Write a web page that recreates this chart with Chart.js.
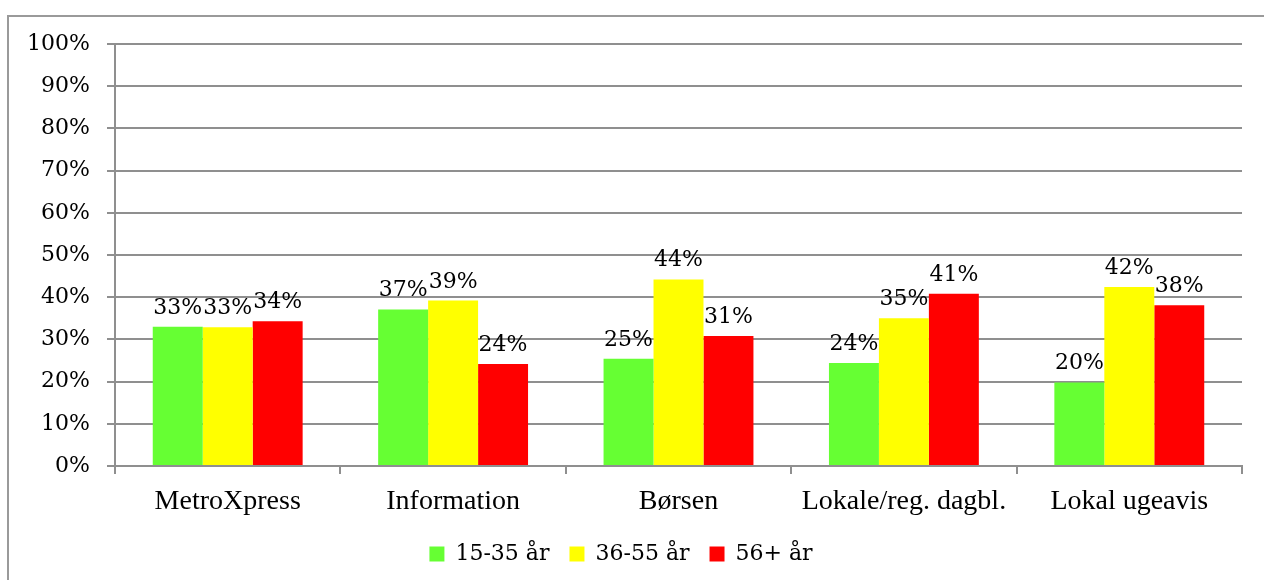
<!DOCTYPE html>
<html>
<head>
<meta charset="utf-8">
<script src="https://cdn.jsdelivr.net/npm/chart.js@4/dist/chart.umd.min.js"></script>
<style>
html,body{margin:0;padding:0;background:#fff;}
#wrap{position:relative;width:1264px;height:580px;}
</style>
</head>
<body>
<div id="wrap"><canvas id="c" width="1264" height="580"></canvas></div>
<script>
const categories = ["MetroXpress", "Information", "Børsen", "Lokale/reg. dagbl.", "Lokal ugeavis"];
const seriesNames = ["15-35 år", "36-55 år", "56+ år"];
const young = [33.0, 37.1, 25.4, 24.4, 19.8];
const middle = [32.9, 39.2, 44.2, 35.0, 42.4];
const senior = [34.3, 24.2, 30.8, 40.8, 38.1];
const yTicks = [0, 10, 20, 30, 40, 50, 60, 70, 80, 90, 100];

const colors = ["#66ff33", "#ffff00", "#ff0000"];
const GRID = "#8f8f8f";

const frame = {
  id: "frame",
  beforeDraw(chart) {
    const ctx = chart.ctx;
    ctx.save();
    ctx.strokeStyle = "#9a9a9a";
    ctx.lineWidth = 2;
    ctx.beginPath();
    ctx.moveTo(8, 580);
    ctx.lineTo(8, 16);
    ctx.lineTo(1264, 16);
    ctx.stroke();
    ctx.restore();
  }
};

const valueLabels = {
  id: "valueLabels",
  afterDatasetsDraw(chart) {
    const ctx = chart.ctx;
    ctx.save();
    ctx.font = "22px 'DejaVu Serif'";
    ctx.fillStyle = "#000";
    ctx.textAlign = "center";
    ctx.textBaseline = "alphabetic";
    chart.data.datasets.forEach((ds, i) => {
      const meta = chart.getDatasetMeta(i);
      meta.data.forEach((bar, j) => {
        ctx.fillText(Math.round(ds.data[j]) + "%", bar.x, bar.y - 13);
      });
    });
    ctx.restore();
  }
};

new Chart(document.getElementById("c"), {
  type: "bar",
  data: {
    labels: categories,
    datasets: [
      { label: seriesNames[0], data: young, backgroundColor: colors[0] },
      { label: seriesNames[1], data: middle, backgroundColor: colors[1] },
      { label: seriesNames[2], data: senior, backgroundColor: colors[2] }
    ]
  },
  options: {
    responsive: false,
    animation: false,
    devicePixelRatio: 1,
    layout: { padding: { left: 0, right: 22, top: 44, bottom: 5 } },
    datasets: { bar: { categoryPercentage: 0.665, barPercentage: 1.0 } },
    plugins: {
      tooltip: { enabled: false },
      legend: {
        position: "bottom",
        labels: {
          boxWidth: 15,
          boxHeight: 15,
          padding: 20,
          color: "#000",
          font: { family: "'DejaVu Serif'", size: 22 }
        }
      }
    },
    scales: {
      x: {
        afterFit(scale) { scale.height = 57; },
        grid: { offset: true, drawOnChartArea: false, drawTicks: true, tickLength: 8, color: GRID, lineWidth: 2 },
        border: { display: true, color: GRID, width: 2 },
        ticks: { color: "#000", padding: 11, font: { family: "'Liberation Serif'", size: 28 }, maxRotation: 0 }
      },
      y: {
        min: 0,
        max: 100,
        afterFit(scale) { scale.width = 115; },
        afterBuildTicks(scale) { scale.ticks = yTicks.map(v => ({ value: v })); },
        grid: { color: GRID, lineWidth: 2, tickLength: 8 },
        border: { display: true, color: GRID, width: 2 },
        ticks: {
          color: "#000",
          padding: 17,
          font: { family: "'DejaVu Serif'", size: 22 },
          callback: v => v + "%"
        }
      }
    }
  },
  plugins: [frame, valueLabels]
});
</script>
</body>
</html>
